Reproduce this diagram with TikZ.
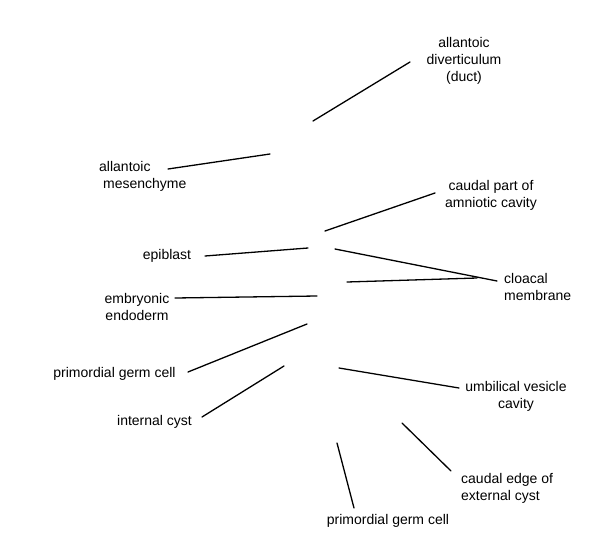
\documentclass[tikz,border=0pt]{standalone}
\usepackage{fontspec}
\setmainfont{Liberation Sans}
\tikzset{
	lbl/.style={inner sep=0pt, font=\fontsize{14}{17.2}\selectfont},
	ptr/.style={line width=1.3pt, line cap=round},
}
\begin{document}
\begin{tikzpicture}[x=1pt, y=-1pt]
			%%%%% START %%%%%
			\useasboundingbox (0, 0) rectangle (600, 554);
			
			\node[lbl, align=center] (alldiv) at (464, 61) {allantoic\\diverticulum\\(duct)};
			\node[lbl, align=left, anchor=west] (allmes) at (99, 176.5) {allantoic\\\hspace*{4pt}mesenchyme};
			\node[lbl, align=center] (caudamn) at (491, 195.5) {caudal part of\\amniotic cavity};
			\node[lbl] (epi) at (167, 256) {epiblast};
			\node[lbl, align=left, anchor=west] (cloaca) at (504, 287) {cloacal\\membrane};
			\node[lbl, align=center] (endo) at (137, 307) {embryonic\\endoderm};
			\node[lbl] (pgcl) at (114.5, 374) {primordial germ cell};
			\node[lbl] (intcyst) at (154.5, 422) {internal cyst};
			\node[lbl, align=center] (uvc) at (516, 396.5) {umbilical vesicle\\cavity};
			\node[lbl, align=left, anchor=west] (extcyst) at (461, 488) {caudal edge of\\external cyst};
			\node[lbl] (pgcb) at (388, 521) {primordial germ cell};
			
			\coordinate (alldiv-a) at (410, 62);   \coordinate (alldiv-b) at (313, 121);
			\coordinate (allmes-a) at (168, 169);  \coordinate (allmes-b) at (270, 154);
			\coordinate (caudamn-a) at (435, 193); \coordinate (caudamn-b) at (325, 231);
			\coordinate (epi-a) at (205, 256);     \coordinate (epi-b) at (308, 248);
			\coordinate (cloaca-a) at (497, 281);  \coordinate (cloaca-b) at (335, 249);
			\coordinate (cloaca-c) at (477, 278);  \coordinate (cloaca-d) at (347, 282);
			\coordinate (endo-a) at (175, 298);    \coordinate (endo-b) at (317, 296);
			\coordinate (pgcl-a) at (188, 372);    \coordinate (pgcl-b) at (307, 324);
			\coordinate (intcyst-a) at (202, 417); \coordinate (intcyst-b) at (284, 366);
			\coordinate (uvc-a) at (459, 388);     \coordinate (uvc-b) at (339, 368);
			\coordinate (extcyst-a) at (451, 471); \coordinate (extcyst-b) at (402, 423);
			\coordinate (pgcb-a) at (354, 508);    \coordinate (pgcb-b) at (337, 443);
			
			\draw[ptr] (alldiv-a) -- (alldiv-b);
			\draw[ptr] (allmes-a) -- (allmes-b);
			\draw[ptr] (caudamn-a) -- (caudamn-b);
			\draw[ptr] (epi-a) -- (epi-b);
			\draw[ptr] (cloaca-a) -- (cloaca-b);
			\draw[ptr] (cloaca-c) -- (cloaca-d);
			\draw[ptr] (endo-a) -- (endo-b);
			\draw[ptr] (pgcl-a) -- (pgcl-b);
			\draw[ptr] (intcyst-a) -- (intcyst-b);
			\draw[ptr] (uvc-a) -- (uvc-b);
			\draw[ptr] (extcyst-a) -- (extcyst-b);
			\draw[ptr] (pgcb-a) -- (pgcb-b);
			
			%%%%% END %%%%%
\end{tikzpicture}
\end{document}
